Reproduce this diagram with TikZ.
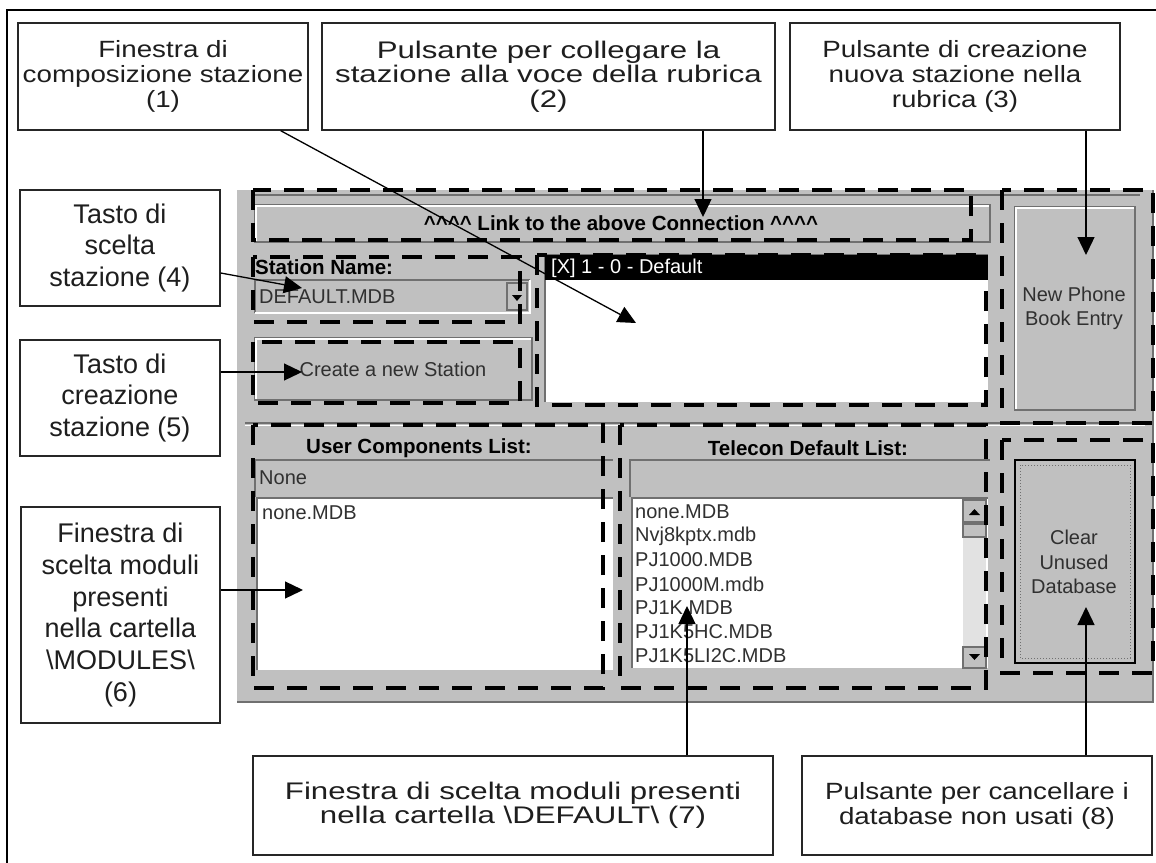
\documentclass[tikz,border=0pt]{standalone}
\usepackage{fontspec}
\setmainfont{Liberation Sans}
\newfontfamily\notefont[FakeStretch=1.18]{Liberation Sans}
\newfontfamily\widenotefont[FakeStretch=1.3]{Liberation Sans}
\usepackage{xcolor}
\usetikzlibrary{arrows.meta}

\definecolor{wingray}{HTML}{C0C0C0}
\definecolor{winshadow}{HTML}{707070}
\definecolor{wintext}{HTML}{303030}
\definecolor{notetext}{HTML}{1E1E1E}
\definecolor{trackgray}{HTML}{E2E2E2}

\begin{document}
\begin{tikzpicture}[x=1pt, y=-1pt,
  note/.style={draw=black!85, line width=1.4pt, fill=white, text=notetext, align=center, inner sep=0pt, font=\notefont\fontsize{23.5}{25}\selectfont},
  widenote/.style={note, font=\widenotefont\fontsize{24}{24.5}\selectfont},
  sidenote/.style={note, font=\fontsize{27}{31.7}\selectfont},
  pointer/.style={line width=1.3pt, -{Triangle[length=18pt, width=17pt]}},
  zone/.style={line width=4pt, dash pattern=on 20pt off 13pt},
  raised/.style={fill=wingray, draw=winshadow, line width=1.5pt},
  ui/.style={text=wintext, inner sep=0pt, font=\fontsize{20}{24}\selectfont},
  uibold/.style={ui, text=black, font=\bfseries\fontsize{20.5}{24}\selectfont}]

\useasboundingbox (0,0) rectangle (1156,862);
\clip (0,0) rectangle (1156,862);
\fill[white] (0,0) rectangle (1156,862);

% Outer frame
\draw[line width=1.5pt] (7,10) rectangle (1180,890);

% Window panel
\fill[wingray] (237,190) rectangle (1153,703);
\draw[winshadow, line width=1.5pt] (237,702) -- (1153,702) -- (1153,190);
\draw[winshadow, line width=1.2pt] (253,195) -- (1140,195);

% Link button
\draw[raised] (255,205) rectangle (990,242);
\draw[white, line width=1.5pt] (256,241) |- (989,206);
\node[uibold] (link) at (621,223) {\textasciicircum\textasciicircum\textasciicircum\textasciicircum{} Link to the above Connection \textasciicircum\textasciicircum\textasciicircum\textasciicircum};

% Station name
\node[uibold, anchor=west] (stlabel) at (255,267) {Station Name:};
\draw[winshadow, line width=1.5pt] (255,313) |- (530,280);
\draw[white, line width=1.5pt] (255,313) -| (530,280);
\node[ui, anchor=west] (stvalue) at (259,297) {DEFAULT.MDB};
\draw[raised] (507,283) rectangle (527,310);
\fill (512,295) -- (522,295) -- (517,301) -- cycle;

% Create button
\draw[raised] (255,338) rectangle (532,400);
\draw[white, line width=1.5pt] (256,399) |- (531,339);
\node[ui] (create) at (393,369) {Create a new Station};

% Station list
\fill[white] (545,255) rectangle (988,402);
\draw[winshadow, line width=1.5pt] (545,402) |- (988,255);
\fill[black] (545,255) rectangle (988,280);
\node[ui, text=white, anchor=west] (entry) at (551,268) {[X] 1 - 0 - Default};

% New phone book entry button
\draw[raised] (1015,207) rectangle (1135,410);
\draw[white, line width=1.5pt] (1016,409) |- (1134,208);
\node[ui, align=center] (newentry) at (1074,308) {New Phone\\Book Entry};

% Separator
\draw[winshadow, line width=1.2pt] (245,423) -- (1145,423);
\draw[white, line width=1.2pt] (245,425.5) -- (1145,425.5);

% User components list
\node[uibold] (userlabel) at (419,448) {User Components List:};
\draw[winshadow, line width=1.5pt] (255,497) |- (613,460);
\node[ui, anchor=west] (usernone) at (259,478) {None};
\fill[white] (257,498) rectangle (613,670);
\draw[winshadow, line width=1.5pt] (257,670) |- (613,498);
\node[ui, anchor=west] (useritem) at (262,513) {none.MDB};

% Telecon default list
\node[uibold] (teleclabel) at (808,448) {Telecon Default List:};
\draw[winshadow, line width=1.5pt] (630,497) |- (990,460);
\fill[white] (632,498) rectangle (988,668);
\draw[winshadow, line width=1.5pt] (632,668) |- (988,498);
\foreach \name [count=\i] in {none.MDB, Nvj8kptx.mdb, PJ1000.MDB, PJ1000M.mdb, PJ1K.MDB, PJ1K5HC.MDB, PJ1K5LI2C.MDB}
  \node[ui, anchor=west] (item\i) at (635,{512+24*(\i-1)}) {\name};

% Scrollbar
\fill[trackgray] (963,537) rectangle (986,647);
\draw[raised] (963,500) rectangle (986,522);
\draw[raised] (963,524) rectangle (986,537);
\draw[raised] (963,647) rectangle (986,668);
\fill (969,515) -- (980,515) -- (974.5,509) -- cycle;
\fill (969,654) -- (980,654) -- (974.5,660) -- cycle;

% Clear button
\draw[fill=wingray, draw=black, line width=2pt] (1015,460) rectangle (1135,663);
\draw[winshadow, dotted, line width=1pt] (1020,465) rectangle (1130,658);
\node[ui, align=center, font=\fontsize{20}{24.5}\selectfont] (clear) at (1074,562) {Clear\\Unused\\Database};

% Dashed zones
\draw[zone] (253,190) rectangle (971,240);
\draw[zone] (253,257) rectangle (520,322);
\draw[zone] (253,342) rectangle (520,403);
\draw[zone] (537,255) rectangle (986,405);
\draw[zone] (1002,190) rectangle (1153,423);
\draw[zone] (253,425) rectangle (603,688);
\draw[zone] (620,425) rectangle (986,688);
\draw[zone] (1002,440) rectangle (1153,673);

% Callouts
\node[note, minimum width=290, minimum height=107] (b1) at (163,76.5) {Finestra di\\composizione stazione\\(1)};
\node[widenote, minimum width=453, minimum height=107] (b2) at (548.5,76.5) {Pulsante per collegare la\\stazione alla voce della rubrica\\(2)};
\node[note, minimum width=330, minimum height=107] (b3) at (955,76.5) {Pulsante di creazione\\nuova stazione nella\\rubrica (3)};
\node[sidenote, minimum width=200, minimum height=116] (b4) at (120,248) {Tasto di\\scelta\\stazione (4)};
\node[sidenote, minimum width=200, minimum height=116] (b5) at (120,398) {Tasto di\\creazione\\stazione (5)};
\node[sidenote, minimum width=199, minimum height=216] (b6) at (120.5,615) {Finestra di\\scelta moduli\\presenti\\nella cartella\\\textbackslash MODULES\textbackslash\\(6)};
\node[widenote, minimum width=520, minimum height=99] (b7) at (513,805.5) {Finestra di scelta moduli presenti\\nella cartella \textbackslash DEFAULT\textbackslash{} (7)};
\node[note, minimum width=350, minimum height=99] (b8) at (977,805.5) {Pulsante per cancellare i\\database non usati (8)};

\coordinate (t1) at (636,323);
\coordinate (t2) at (703,217);
\coordinate (t3) at (1086,255);
\coordinate (t4) at (302,288);
\coordinate (t5) at (302,372);
\coordinate (t6) at (303,590);
\coordinate (t7) at (687,606);
\coordinate (t8) at (1086,607);

\draw[pointer] ([xshift=-28pt]b1.south east) -- (t1);
\draw[pointer] (b2.south -| t2) -- (t2);
\draw[pointer] (b3.south -| t3) -- (t3);
\draw[pointer] ([yshift=-25pt]b4.east) -- (t4);
\draw[pointer] (b5.east |- t5) -- (t5);
\draw[pointer] (b6.east |- t6) -- (t6);
\draw[pointer] (b7.north -| t7) -- (t7);
\draw[pointer] (b8.north -| t8) -- (t8);

\end{tikzpicture}
\end{document}
